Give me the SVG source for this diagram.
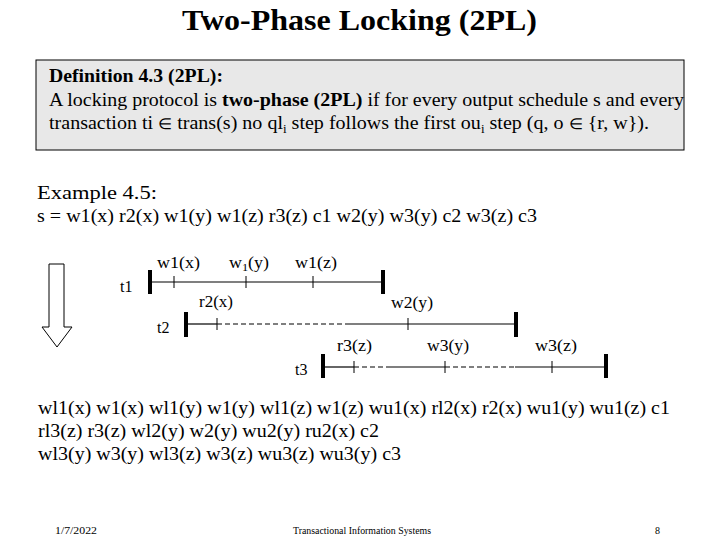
<svg xmlns="http://www.w3.org/2000/svg" width="720" height="540" viewBox="0 0 720 540">
<style>
text{font-family:"Liberation Serif",serif;fill:#000}
.b{font-weight:bold}
.body{font-size:18.5px}
.lbl{font-size:16px}
.ft{font-size:10px}
.sym{font-size:15px}
.ln{stroke:#000;stroke-width:1.2;fill:none}
.dash{stroke:#000;stroke-width:1.2;fill:none;stroke-dasharray:5,3}
.bar{stroke:#000;stroke-width:4;fill:none}
.tick{stroke:#000;stroke-width:1;fill:none}
</style>
<rect width="720" height="540" fill="#fff"/>
<g id="title">
<text class="b" x="182" y="30" font-size="30" textLength="355" lengthAdjust="spacingAndGlyphs">Two-Phase Locking (2PL)</text>
</g>
<g id="definition">
<rect x="36" y="60" width="648" height="90" fill="#e8e8e8" stroke="#000" stroke-width="1"/>
<text class="body b" x="49" y="82" textLength="174" lengthAdjust="spacingAndGlyphs">Definition 4.3 (2PL):</text>
<text class="body" x="49" y="106" textLength="635" lengthAdjust="spacingAndGlyphs">A locking protocol is <tspan class="b">two-phase (2PL)</tspan> if for every output schedule s and every</text>
<text class="body" x="49" y="129" textLength="600" lengthAdjust="spacingAndGlyphs">transaction ti <tspan class="sym">∈</tspan> trans(s) no ql<tspan font-size="12" dy="4">i</tspan><tspan dy="-4"> step follows the first ou</tspan><tspan font-size="12" dy="4">i</tspan><tspan dy="-4"> step (q, o </tspan><tspan class="sym">∈</tspan> {r, w}).</text>
</g>
<g id="example">
<text class="body" x="37" y="199" textLength="120" lengthAdjust="spacingAndGlyphs">Example 4.5:</text>
<text class="body" x="37" y="222" textLength="500" lengthAdjust="spacingAndGlyphs">s = w1(x) r2(x) w1(y) w1(z) r3(z) c1 w2(y) w3(y) c2 w3(z) c3</text>
</g>
<g id="time-arrow">
<path d="M49,264 H64 V327 H72 L57,347 L42,327 H49 Z" fill="#fff" stroke="#000" stroke-width="1"/>
</g>
<g id="connectors">
<line class="ln" x1="150" y1="282" x2="383" y2="282"/>
<line class="ln" x1="186" y1="324" x2="217" y2="324"/>
<line class="dash" x1="217" y1="324" x2="348" y2="324"/>
<line class="ln" x1="348" y1="324" x2="516" y2="324"/>
<line class="ln" x1="323" y1="367" x2="354" y2="367"/>
<line class="dash" x1="354" y1="367" x2="390" y2="367"/>
<line class="ln" x1="390" y1="367" x2="445" y2="367"/>
<line class="dash" x1="445" y1="367" x2="515" y2="367"/>
<line class="ln" x1="515" y1="367" x2="606" y2="367"/>
</g>
<g id="t1">
<text class="lbl" x="120" y="292">t1</text>
<line class="bar" x1="150" y1="270" x2="150" y2="294"/>
<line class="bar" x1="383" y1="270" x2="383" y2="294"/>
<line class="tick" x1="174" y1="276" x2="174" y2="288"/>
<line class="tick" x1="246" y1="276" x2="246" y2="288"/>
<line class="tick" x1="313" y1="276" x2="313" y2="288"/>
<text class="lbl" x="157" y="268" textLength="43" lengthAdjust="spacingAndGlyphs">w1(x)</text>
<text class="lbl" x="229" y="268" textLength="40" lengthAdjust="spacingAndGlyphs">w<tspan font-size="11" dy="3">1</tspan><tspan dy="-3">(y)</tspan></text>
<text class="lbl" x="295" y="268" textLength="42" lengthAdjust="spacingAndGlyphs">w1(z)</text>
</g>
<g id="t2">
<text class="lbl" x="157" y="333">t2</text>
<line class="bar" x1="186" y1="312" x2="186" y2="337"/>
<line class="bar" x1="516" y1="312" x2="516" y2="337"/>
<line class="tick" x1="217" y1="318" x2="217" y2="330"/>
<line class="tick" x1="408" y1="318" x2="408" y2="330"/>
<text class="lbl" x="199" y="307" textLength="34" lengthAdjust="spacingAndGlyphs">r2(x)</text>
<text class="lbl" x="391" y="308" textLength="42" lengthAdjust="spacingAndGlyphs">w2(y)</text>
</g>
<g id="t3">
<text class="lbl" x="295" y="375">t3</text>
<line class="bar" x1="323" y1="354" x2="323" y2="378"/>
<line class="bar" x1="606" y1="354" x2="606" y2="378"/>
<line class="tick" x1="354" y1="361" x2="354" y2="373"/>
<line class="tick" x1="445" y1="361" x2="445" y2="373"/>
<line class="tick" x1="552" y1="361" x2="552" y2="373"/>
<text class="lbl" x="337" y="351" textLength="35" lengthAdjust="spacingAndGlyphs">r3(z)</text>
<text class="lbl" x="427" y="351" textLength="42" lengthAdjust="spacingAndGlyphs">w3(y)</text>
<text class="lbl" x="535" y="351" textLength="42" lengthAdjust="spacingAndGlyphs">w3(z)</text>
</g>
<g id="schedule">
<text class="body" x="38" y="414" textLength="632" lengthAdjust="spacingAndGlyphs">wl1(x) w1(x) wl1(y) w1(y) wl1(z) w1(z) wu1(x) rl2(x) r2(x) wu1(y) wu1(z) c1</text>
<text class="body" x="38" y="437" textLength="341" lengthAdjust="spacingAndGlyphs">rl3(z) r3(z) wl2(y) w2(y) wu2(y) ru2(x) c2</text>
<text class="body" x="38" y="460" textLength="363" lengthAdjust="spacingAndGlyphs">wl3(y) w3(y) wl3(z) w3(z) wu3(z) wu3(y) c3</text>
</g>
<g id="footer">
<text class="ft" x="55" y="534" textLength="42" lengthAdjust="spacingAndGlyphs">1/7/2022</text>
<text class="ft" x="293" y="534" textLength="138" lengthAdjust="spacingAndGlyphs">Transactional Information Systems</text>
<text class="ft" x="655" y="534">8</text>
</g>
</svg>
